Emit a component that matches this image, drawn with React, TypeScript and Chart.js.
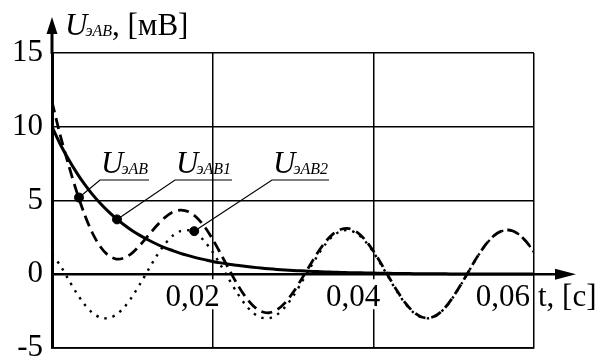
import React, { useEffect, useRef } from "react";
import { Chart, registerables } from "chart.js";
Chart.register(...registerables);

// time in milliseconds
const timeMs = [
  0, 1, 2, 3, 4, 5, 6, 7, 8, 9, 10, 11, 12, 13, 14, 15, 16, 17, 18, 19, 20,
  21, 22, 23, 24, 25, 26, 27, 28, 29, 30, 31, 32, 33, 34, 35, 36, 37, 38, 39, 40,
  41, 42, 43, 44, 45, 46, 47, 48, 49, 50, 51, 52, 53, 54, 55, 56, 57, 58, 59, 60,
];
// U_эAB1 (solid)
const uSolid = [
  10, 8.85, 7.84, 6.94, 6.14, 5.43, 4.81, 4.26, 3.77, 3.34, 2.95, 2.62, 2.32, 2.05, 1.81, 1.61, 1.42, 1.26, 1.11, 0.99, 0.87,
  0.77, 0.68, 0.61, 0.54, 0.48, 0.42, 0.37, 0.33, 0.29, 0.26, 0.23, 0.2, 0.18, 0.16, 0.14, 0.12, 0.11, 0.1, 0.09, 0.08,
  0.07, 0.06, 0.05, 0.05, 0.04, 0.04, 0.03, 0.03, 0.03, 0.02, 0.02, 0.02, 0.02, 0.01, 0.01, 0.01, 0.01, 0.01, 0.01, 0.01,
];
// U_эAB (dashed)
const uDashed = [
  11.7, 9.47, 7.53, 5.72, 4.13, 2.83, 1.88, 1.28, 1.03, 1.11, 1.45, 2.0, 2.63, 3.27, 3.82, 4.21, 4.35, 4.24, 3.85, 3.22, 2.37,
  1.39, 0.37, -0.61, -1.47, -2.12, -2.51, -2.61, -2.41, -1.94, -1.24, -0.39, 0.51, 1.4, 2.17, 2.74, 3.05, 3.09, 2.84, 2.32, 1.58,
  0.69, -0.25, -1.16, -1.96, -2.56, -2.9, -2.96, -2.73, -2.22, -1.48, -0.61, 0.32, 1.23, 2.02, 2.61, 2.94, 2.99, 2.75, 2.24, 1.51,
];
// U_эAB2 (dotted)
const uDotted = [
  1.3, 0.62, -0.31, -1.22, -2.01, -2.6, -2.93, -2.98, -2.74, -2.23, -1.5, -0.62, 0.31, 1.22, 2.01, 2.6, 2.93, 2.98, 2.74, 2.23, 1.5,
  0.62, -0.31, -1.22, -2.01, -2.6, -2.93, -2.98, -2.74, -2.23, -1.5, -0.62, 0.31, 1.22, 2.01, 2.6, 2.93, 2.98, 2.74, 2.23, 1.5,
  0.62, -0.31, -1.22, -2.01, -2.6, -2.93, -2.98, -2.74, -2.23, -1.5, -0.62, 0.31, 1.22, 2.01, 2.6, 2.93, 2.98, 2.74, 2.23, 1.5,
];

const yTickValues = [-5, 0, 5, 10, 15];
const xGridMs = [0, 20, 40, 60];
const xLabelMs = [20, 40, 60];
const xTickLabels = ["0,02", "0,04", "0,06"];
const xLabelShift = [7, 7, -4];
const xUnit = "t, [c]";
const yTitleMain = "U";
const yTitleSub = "эAB";
const yTitleRest = ", [мВ]";

// callout markers (on the curves) and label anchors, in data units
const markerPoints = [
  { x: 3.36, y: 5.2 },
  { x: 8.09, y: 3.72 },
  { x: 17.7, y: 2.92 },
];
const calloutSubs = ["эAB", "эAB1", "эAB2"];
const calloutAnchors = [
  { x: 5.98, y: 6.39 },
  { x: 15.31, y: 6.39 },
  { x: 27.39, y: 6.39 },
];

const SERIF = '"Liberation Serif", "Times New Roman", serif';

const overlay = {
  id: "overlay",
  afterDatasetsDraw(chart: any) {
    const { ctx, chartArea } = chart;
    const xs = chart.scales.x;
    const ys = chart.scales.y;
    const y0 = ys.getPixelForValue(0);
    const xL = chartArea.left;
    ctx.save();
    ctx.strokeStyle = "#000";
    ctx.fillStyle = "#000";
    ctx.lineCap = "butt";

    // x axis with arrow
    ctx.lineWidth = 2.5;
    ctx.beginPath();
    ctx.moveTo(xL, y0);
    ctx.lineTo(chartArea.right + 26, y0);
    ctx.stroke();
    ctx.beginPath();
    ctx.moveTo(chartArea.right + 42, y0);
    ctx.lineTo(chartArea.right + 21, y0 - 5.5);
    ctx.lineTo(chartArea.right + 21, y0 + 5.5);
    ctx.closePath();
    ctx.fill();

    // y axis extension with arrow
    ctx.lineWidth = 3;
    ctx.beginPath();
    ctx.moveTo(xL, chartArea.top + 1);
    ctx.lineTo(xL, chartArea.top - 22);
    ctx.stroke();
    ctx.beginPath();
    ctx.moveTo(xL, chartArea.top - 36);
    ctx.lineTo(xL - 5.5, chartArea.top - 19);
    ctx.lineTo(xL + 5.5, chartArea.top - 19);
    ctx.closePath();
    ctx.fill();

    // x tick labels with white backdrop
    ctx.font = `31px ${SERIF}`;
    ctx.textBaseline = "alphabetic";
    ctx.textAlign = "left";
    xLabelMs.forEach((v, i) => {
      const txt = xTickLabels[i];
      const w = ctx.measureText(txt).width;
      const right = xs.getPixelForValue(v) + xLabelShift[i];
      ctx.fillStyle = "#fff";
      ctx.fillRect(right - w - 1, y0 + 5, w + 2, 30);
      ctx.fillStyle = "#000";
      ctx.fillText(txt, right - w, y0 + 32);
    });
    ctx.fillText(xUnit, chartArea.right + 4, y0 + 32);

    // y title
    let tx = xL + 13;
    const ty = chartArea.top - 18;
    ctx.font = `italic 31px ${SERIF}`;
    ctx.fillText(yTitleMain, tx, ty);
    tx += ctx.measureText(yTitleMain).width - 2;
    ctx.font = `italic 16px ${SERIF}`;
    ctx.fillText(yTitleSub, tx, ty + 1);
    tx += ctx.measureText(yTitleSub).width;
    ctx.font = `31px ${SERIF}`;
    ctx.fillText(yTitleRest, tx, ty);

    // callouts
    calloutAnchors.forEach((a, i) => {
      const ax = xs.getPixelForValue(a.x);
      const ay = ys.getPixelForValue(a.y);
      const mx = xs.getPixelForValue(markerPoints[i].x);
      const my = ys.getPixelForValue(markerPoints[i].y);
      ctx.font = `italic 31px ${SERIF}`;
      ctx.fillText("U", ax + 1, ay - 7);
      let lx = ax + 1 + ctx.measureText("U").width - 2;
      ctx.font = `italic 16px ${SERIF}`;
      ctx.fillText(calloutSubs[i], lx, ay - 6);
      lx += ctx.measureText(calloutSubs[i]).width;
      ctx.lineWidth = 1.2;
      ctx.beginPath();
      ctx.moveTo(mx, my);
      ctx.lineTo(ax, ay);
      ctx.lineTo(lx + 1, ay);
      ctx.stroke();
    });
    ctx.restore();
  },
};

export default function App() {
  const ref = useRef<HTMLCanvasElement | null>(null);
  useEffect(() => {
    if (!ref.current) return;
    const toXY = (arr: number[]) => timeMs.map((t, i) => ({ x: t, y: arr[i] }));
    const chart = new Chart(ref.current, {
      type: "line",
      data: {
        datasets: [
          {
            type: "scatter",
            data: markerPoints,
            backgroundColor: "#000",
            borderColor: "#000",
            pointRadius: 4.5,
            showLine: false,
          } as any,
          {
            data: toXY(uSolid),
            borderColor: "#000",
            borderWidth: 3,
            pointRadius: 0,
            tension: 0.3,
          },
          {
            data: toXY(uDashed),
            borderColor: "#000",
            borderWidth: 2.8,
            borderDash: [11, 6],
            pointRadius: 0,
            tension: 0.3,
          },
          {
            data: toXY(uDotted),
            borderColor: "#000",
            borderWidth: 2.4,
            borderDash: [2.4, 6],
            pointRadius: 0,
            tension: 0.3,
          },
        ],
      },
      options: {
        animation: false,
        responsive: false,
        devicePixelRatio: 1,
        layout: { padding: { top: 53, right: 72, bottom: 13, left: 0 } },
        plugins: { legend: { display: false }, tooltip: { enabled: false } },
        scales: {
          x: {
            type: "linear",
            min: 0,
            max: 60,
            afterBuildTicks: (s: any) => {
              s.ticks = xGridMs.map((v) => ({ value: v }));
            },
            afterFit: (s: any) => {
              s.height = 0;
              s.paddingLeft = 0;
              s.paddingRight = 0;
            },
            ticks: { display: false },
            grid: { color: "#000", lineWidth: 1.5, drawTicks: false },
            border: { display: true, color: "#000", width: 1.8 },
          },
          y: {
            type: "linear",
            min: -5,
            max: 15,
            afterBuildTicks: (s: any) => {
              s.ticks = yTickValues.map((v) => ({ value: v }));
            },
            afterFit: (s: any) => {
              s.width = 52;
              s.paddingTop = 0;
              s.paddingBottom = 0;
            },
            ticks: {
              color: "#000",
              font: { family: SERIF, size: 31 },
              padding: 9,
              callback: (v: any) => String(v),
            },
            grid: {
              color: "#000",
              lineWidth: (c: any) => (c.tick && c.tick.value === 0 ? 0 : 1.5),
              drawTicks: false,
            },
            border: { display: true, color: "#000", width: 3 },
          },
        },
      },
      plugins: [overlay],
    });
    return () => chart.destroy();
  }, []);
  return (
    <div style={{ position: "fixed", left: 0, top: 0, width: 606, height: 361, background: "#fff" }}>
      <canvas ref={ref} width={606} height={361} />
    </div>
  );
}
